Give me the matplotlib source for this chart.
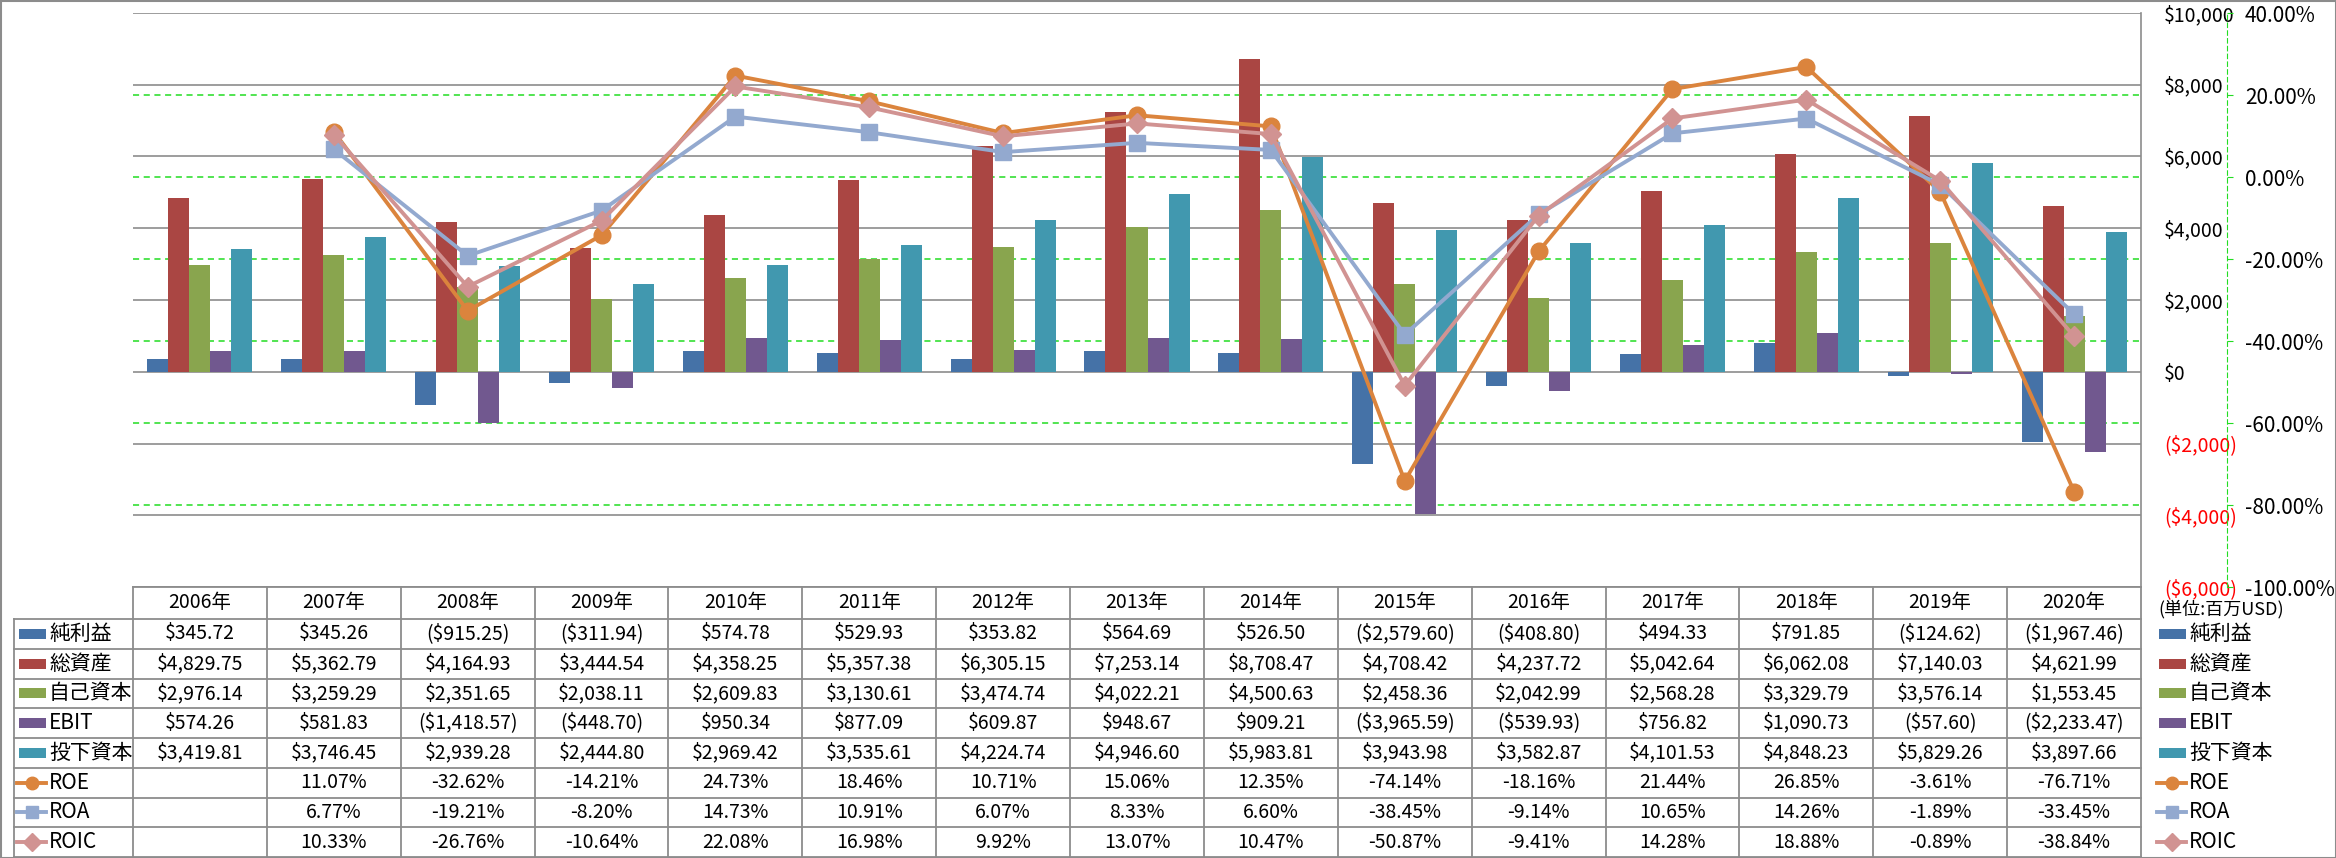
import numpy as np
import matplotlib
matplotlib.use('Agg')
import matplotlib.pyplot as plt
from matplotlib.patches import Rectangle

plt.rcParams['font.family'] = ['Noto Sans CJK JP', 'DejaVu Sans']

# データ (単位: 百万USD)
years = ['2006年', '2007年', '2008年', '2009年', '2010年', '2011年', '2012年', '2013年',
         '2014年', '2015年', '2016年', '2017年', '2018年', '2019年', '2020年']
net_income = [345.72, 345.26, -915.25, -311.94, 574.78, 529.93, 353.82, 564.69,
              526.50, -2579.60, -408.80, 494.33, 791.85, -124.62, -1967.46]
total_assets = [4829.75, 5362.79, 4164.93, 3444.54, 4358.25, 5357.38, 6305.15, 7253.14,
                8708.47, 4708.42, 4237.72, 5042.64, 6062.08, 7140.03, 4621.99]
equity = [2976.14, 3259.29, 2351.65, 2038.11, 2609.83, 3130.61, 3474.74, 4022.21,
          4500.63, 2458.36, 2042.99, 2568.28, 3329.79, 3576.14, 1553.45]
ebit = [574.26, 581.83, -1418.57, -448.70, 950.34, 877.09, 609.87, 948.67,
        909.21, -3965.59, -539.93, 756.82, 1090.73, -57.60, -2233.47]
invested = [3419.81, 3746.45, 2939.28, 2444.80, 2969.42, 3535.61, 4224.74, 4946.60,
            5983.81, 3943.98, 3582.87, 4101.53, 4848.23, 5829.26, 3897.66]
roe = [np.nan, 11.07, -32.62, -14.21, 24.73, 18.46, 10.71, 15.06,
       12.35, -74.14, -18.16, 21.44, 26.85, -3.61, -76.71]
roa = [np.nan, 6.77, -19.21, -8.20, 14.73, 10.91, 6.07, 8.33,
       6.60, -38.45, -9.14, 10.65, 14.26, -1.89, -33.45]
roic = [np.nan, 10.33, -26.76, -10.64, 22.08, 16.98, 9.92, 13.07,
        10.47, -50.87, -9.41, 14.28, 18.88, -0.89, -38.84]

bar_names = ['純利益', '総資産', '自己資本', 'EBIT', '投下資本']
bar_colors = ['#4572A7', '#AA4643', '#89A54E', '#71588F', '#4198AF']
line_names = ['ROE', 'ROA', 'ROIC']
line_colors = ['#DB843D', '#93A9CF', '#D19392']
line_markers = ['o', 's', 'D']

W, H = 2336, 858
fig = plt.figure(figsize=(W / 100, H / 100), dpi=100)

# プロット領域 (ピクセル)
L, R, T, B = 133, 2141, 13, 587
ax = fig.add_axes([L / W, 1 - B / H, (R - L) / W, (B - T) / H])
ax2 = ax.twinx()

x = np.arange(len(years))
bw = 0.157
bar_data = [net_income, total_assets, equity, ebit, invested]
for k, vals in enumerate(bar_data):
    ax.bar(x + (k - 2) * bw, vals, width=bw, color=bar_colors[k], zorder=2)

ax.set_xlim(-0.5, len(years) - 0.5)
ax.set_ylim(-6000, 10000)
yt = np.arange(-6000, 10001, 2000)
ax.set_yticks(yt, labels=[('($%s)' % format(-t, ',')) if t < 0 else '$%s' % format(t, ',') for t in yt])
ax.tick_params(axis='y', left=False, right=False, labelleft=False, labelright=True,
               labelsize=14, pad=13)
for tick, t in zip(ax.yaxis.get_major_ticks(), yt):
    tick.label2.set_color('red' if t < 0 else 'black')
ax.set_xticks([])
ax.grid(axis='y', color='#8c8c8c', linewidth=1.2, zorder=0)
ax.set_axisbelow(True)
for s in ['left', 'top', 'bottom']:
    ax.spines[s].set_visible(False)
ax.spines['right'].set_color('#8c8c8c')
ax.spines['right'].set_linewidth(1.2)

# 第2軸 (%)
ax2.set_ylim(-100, 40)
pt = np.arange(-100, 41, 20)
ax2.set_yticks(pt, labels=['%.2f%%' % t for t in pt])
ax2.tick_params(axis='y', direction='out', length=4, color='#22dd22', labelsize=15, pad=9)
for tick, t in zip(ax2.yaxis.get_major_ticks(), pt):
    tick.label2.set_color('red' if t < 0 else 'black')
for s in ['left', 'top', 'bottom']:
    ax2.spines[s].set_visible(False)
ax2.spines['right'].set_position(('outward', (2227 - R) * 0.72))
ax2.spines['right'].set_color('#22dd22')
ax2.spines['right'].set_linestyle((0, (4, 3)))

# 緑の補助線 (第2軸の目盛り)
for t in pt[1:-1]:
    f = (t - (-100)) / 140
    ax.plot([0, 1], [f, f], transform=ax.transAxes, color='#22dd22', linestyle=(0, (4, 3)),
            linewidth=1.1, zorder=1)

for k, vals in enumerate([roe, roa, roic]):
    ax2.plot(x, vals, color=line_colors[k], marker=line_markers[k], linewidth=2.8,
             markersize=[12, 11, 10.5][k], zorder=3 + k)

# データテーブル
tax = fig.add_axes([0, 0, 1, 1])
tax.set_xlim(0, W)
tax.set_ylim(H, 0)
tax.axis('off')
tax.add_patch(Rectangle((0.5, 0.5), W - 1, H - 1, fill=False, edgecolor='#8c8c8c', linewidth=1.5))

gc = '#8c8c8c'
cw = (R - L) / len(years)
hdr_top, hdr_bot = B, 619
rh = (857 - hdr_bot) / 8
lx = 14
tax.plot([L, R], [hdr_top, hdr_top], color=gc, lw=1.3)
for i in range(9):
    yy = hdr_bot + i * rh
    tax.plot([lx, R], [yy, yy], color=gc, lw=1.3)
tax.plot([lx, lx], [hdr_bot, 857], color=gc, lw=1.3)
for j in range(len(years) + 1):
    xx = L + j * cw
    tax.plot([xx, xx], [hdr_top, 857], color=gc, lw=1.3)

fs = 14
for j, yname in enumerate(years):
    tax.text(L + (j + 0.5) * cw, (hdr_top + hdr_bot) / 2, yname, ha='center', va='center', fontsize=fs)


def money(v):
    s = '$' + format(abs(v), ',.2f')
    return '(' + s + ')' if v < 0 else s


for i, vals in enumerate(bar_data):
    yc = hdr_bot + (i + 0.5) * rh
    for j, v in enumerate(vals):
        tax.text(L + (j + 0.5) * cw, yc, money(v), ha='center', va='center', fontsize=fs)
for i, vals in enumerate([roe, roa, roic]):
    yc = hdr_bot + (i + 5.5) * rh
    for j, v in enumerate(vals):
        if not np.isnan(v):
            tax.text(L + (j + 0.5) * cw, yc, '%.2f%%' % v, ha='center', va='center', fontsize=fs)


def legend_key(x0, i, name):
    yc = hdr_bot + (i + 0.5) * rh
    if i < 5:
        tax.add_patch(Rectangle((x0 + 2, yc - 5), 27, 10, color=bar_colors[i], lw=0))
    else:
        k = i - 5
        tax.plot([x0, x0 + 29], [yc, yc], color=line_colors[k], lw=2.8)
        tax.plot([x0 + 14.5], [yc], marker=line_markers[k], color=line_colors[k], markersize=9)
    tax.text(x0 + 32, yc, name, ha='left', va='center', fontsize=15)


for i, name in enumerate(bar_names + line_names):
    legend_key(17, i, name)
    legend_key(2157, i, name)

tax.text(2158, 609, '(単位:百万USD)', ha='left', va='center', fontsize=13)

fig.savefig('out.png', dpi=100)
